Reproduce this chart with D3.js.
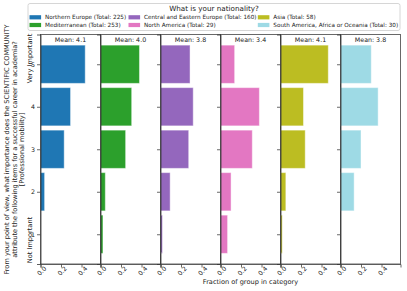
<!DOCTYPE html>
<html>
<head>
<meta charset="utf-8">
<script src="https://cdn.jsdelivr.net/npm/d3@7"></script>
<style>
  body { margin: 0; background: #fff; }
  text { font-family: "DejaVu Sans", sans-serif; fill: #222; }
</style>
</head>
<body>
<script>
// groups as in the legend
var groups = ["Northern Europe", "Mediterranean", "Central and Eastern Europe",
              "North America", "Asia", "South America, Africa or Oceania"];
var totals = [225, 253, 160, 29, 58, 30];
var means = [4.1, 4.0, 3.8, 3.4, 4.1, 3.8];
var colors = ["#1f77b4", "#2ca02c", "#9467bd", "#e377c2", "#bcbd22", "#9edae5"];

// answer categories 1..5
var categories = [1, 2, 3, 4, 5];

// fraction of group in category (1..5)
var northernEurope = [0.0, 0.04, 0.231, 0.293, 0.436];
var mediterranean  = [0.024, 0.047, 0.245, 0.304, 0.380];
var centralEastern = [0.019, 0.094, 0.275, 0.319, 0.288];
var northAmerica   = [0.069, 0.103, 0.310, 0.379, 0.138];
var asia           = [0.017, 0.052, 0.241, 0.224, 0.466];
var southAmerica   = [0.0, 0.133, 0.200, 0.367, 0.300];
var fractions = [northernEurope, mediterranean, centralEastern, northAmerica, asia, southAmerica];

var xTicks = [0, 0.2, 0.4];

var W = 407, H = 291;
var pTop = 34.5, pBottom = 264, pLeft = 40.5, pRight = 400.5;

var svg = d3.select("body").append("svg")
  .attr("width", W).attr("height", H);

var panel = d3.scaleBand().domain(groups).range([pLeft, pRight]);
var pw = panel.bandwidth();
var ph = pBottom - pTop;

var x = d3.scaleLinear().domain([0, 0.585]).range([0, pw]);
var y = d3.scaleLinear().domain([0.3, 5.7]).range([ph, 0]);

groups.forEach(function(g, gi) {
  var p = svg.append("g")
    .attr("transform", "translate(" + panel(g) + "," + pTop + ")");

  // bars
  p.selectAll("rect.bar")
    .data(categories)
    .enter().append("rect")
    .attr("class", "bar")
    .attr("x", 0)
    .attr("y", function(c) { return y(c + 0.45); })
    .attr("height", function(c) { return y(c - 0.45) - y(c + 0.45); })
    .attr("width", function(c, i) { return x(fractions[gi][i]); })
    .attr("fill", colors[gi])
    .attr("stroke", "#fff")
    .attr("stroke-opacity", 0.45)
    .attr("stroke-width", 1);

  // frame
  p.append("rect")
    .attr("x", 0).attr("y", 0)
    .attr("width", pw).attr("height", ph)
    .attr("fill", "none")
    .attr("stroke", "#444")
    .attr("stroke-width", 0.8);

  // y axis
  var ya = p.append("g").call(d3.axisLeft(y).tickValues(categories)
    .tickFormat(d3.format("d")).tickSize(3.5).tickPadding(2));
  ya.select(".domain").attr("stroke", "#333").attr("stroke-width", 0.8);
  ya.selectAll(".tick line").attr("stroke", "#444").attr("stroke-width", 0.8);
  ya.selectAll("text").attr("font-size", 6.3).attr("fill", "#222");
  if (gi > 0) ya.selectAll("text").remove();

  // x axis
  var xa = p.append("g")
    .attr("transform", "translate(0," + ph + ")")
    .call(d3.axisBottom(x).tickValues(xTicks).tickFormat(d3.format(".1f")).tickSize(3.5));
  xa.select(".domain").attr("stroke", "#444").attr("stroke-width", 0.8);
  xa.selectAll(".tick line").attr("stroke", "#444").attr("stroke-width", 0.8);
  xa.selectAll("text")
    .attr("font-size", 6.3)
    .attr("fill", "#222")
    .attr("y", 0).attr("dy", null)
    .attr("text-anchor", "middle")
    .attr("dominant-baseline", "central")
    .attr("transform", "translate(0.5,6.8) rotate(-45)");

  // mean label
  p.append("text")
    .attr("x", pw / 2).attr("y", 5)
    .attr("text-anchor", "middle")
    .attr("dominant-baseline", "central")
    .attr("font-size", 6.3)
    .text("Mean: " + d3.format(".1f")(means[gi]));
});

// secondary y labels
svg.append("text")
  .attr("transform", "translate(30," + 58.5 + ") rotate(-90)")
  .attr("text-anchor", "middle").attr("dominant-baseline", "central")
  .attr("font-size", 6.6)
  .text("Very Important");
svg.append("text")
  .attr("transform", "translate(30," + 240 + ") rotate(-90)")
  .attr("text-anchor", "middle").attr("dominant-baseline", "central")
  .attr("font-size", 6.6)
  .text("Not Important");

// y axis label
var ylab = ["From your point of view, what importance does the SCIENTIFIC COMMUNITY",
            "attribute the following items for a successful career in academia?",
            "[Professional mobility]"];
ylab.forEach(function(t, i) {
  svg.append("text")
    .attr("transform", "translate(" + (7 + i * 7.6) + "," + 149.5 + ") rotate(-90)")
    .attr("text-anchor", "middle").attr("dominant-baseline", "central")
    .attr("font-size", 6.6)
    .text(t);
});

// x axis label (on 4th panel)
svg.append("text")
  .attr("x", panel(groups[3]) + pw / 2).attr("y", 281.5)
  .attr("text-anchor", "middle").attr("dominant-baseline", "central")
  .attr("font-size", 6.6)
  .text("Fraction of group in category");

// legend
var lg = svg.append("g");
lg.append("rect")
  .attr("x", 28).attr("y", 3.5).attr("width", 372).attr("height", 27)
  .attr("rx", 2)
  .attr("fill", "#fff").attr("stroke", "#ccc").attr("stroke-width", 0.8);
lg.append("text")
  .attr("x", 214).attr("y", 8.7)
  .attr("text-anchor", "middle").attr("dominant-baseline", "central")
  .attr("font-size", 7.2)
  .text("What is your nationality?");

var colX = [29.5, 128.5, 257.8];
groups.forEach(function(g, i) {
  var cx = colX[Math.floor(i / 2)], cy = i % 2 === 0 ? 17.3 : 25;
  lg.append("rect")
    .attr("x", cx).attr("y", cy - 2.1).attr("width", 11.6).attr("height", 4.2)
    .attr("fill", colors[i]);
  lg.append("text")
    .attr("x", cx + 15.5).attr("y", cy)
    .attr("dominant-baseline", "central")
    .attr("font-size", 5.7)
    .text(g + " (Total: " + totals[i] + ")");
});
</script>
</body>
</html>
